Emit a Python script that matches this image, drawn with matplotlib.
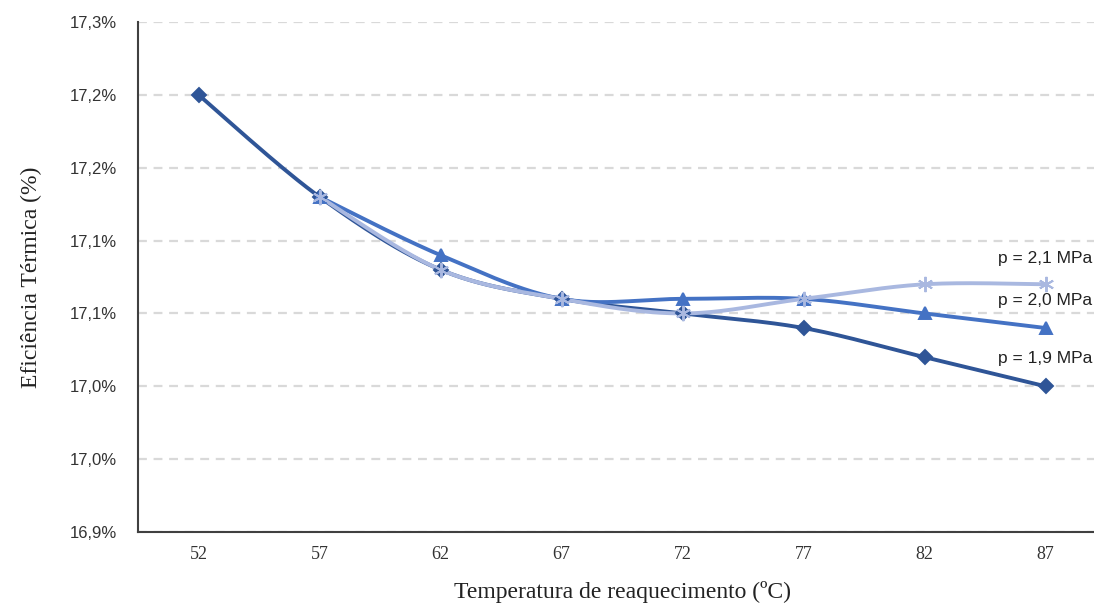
import numpy as np
import matplotlib.pyplot as plt
from matplotlib.ticker import FuncFormatter

temps = [52, 57, 62, 67, 72, 77, 82, 87]
eff_19 = [17.20, 17.13, 17.08, 17.06, 17.05, 17.04, 17.02, 17.00]
eff_20 = [None, 17.13, 17.09, 17.06, 17.06, 17.06, 17.05, 17.04]
eff_21 = [None, 17.13, 17.08, 17.06, 17.05, 17.06, 17.07, 17.07]
labels = ['p = 1,9 MPa', 'p = 2,0 MPa', 'p = 2,1 MPa']
label_y = [17.019, 17.059, 17.088]


def smooth(x, y, n=30):
    # bezier smoothing like the spreadsheet "smoothed line"
    x = np.asarray(x, float)
    y = np.asarray(y, float)
    px = np.concatenate([[x[0]], x, [x[-1]]])
    py = np.concatenate([[y[0]], y, [y[-1]]])
    xs, ys = [], []
    t = np.linspace(0, 1, n)
    for i in range(1, len(px) - 2):
        p0 = np.array([px[i], py[i]])
        p3 = np.array([px[i + 1], py[i + 1]])
        c1 = p0 + (np.array([px[i + 1], py[i + 1]]) - np.array([px[i - 1], py[i - 1]])) / 6
        c2 = p3 - (np.array([px[i + 2], py[i + 2]]) - np.array([px[i], py[i]])) / 6
        b = ((1 - t) ** 3)[:, None] * p0 + (3 * (1 - t) ** 2 * t)[:, None] * c1 \
            + (3 * (1 - t) * t ** 2)[:, None] * c2 + (t ** 3)[:, None] * p3
        xs.extend(b[:, 0])
        ys.extend(b[:, 1])
    return np.array(xs), np.array(ys)


fig = plt.figure(figsize=(10.94, 6.06), dpi=100)
ax = fig.add_axes([138 / 1094, 74 / 606, 968 / 1094, 510 / 606])

series = [
    (eff_19, '#2F5597', 'D', 7),
    (eff_20, '#4472C4', '^', 8.5),
    (eff_21, '#A9B8E0', (6, 2, 0), 11),
]
for vals, col, mk, ms in series:
    idx = [i for i, v in enumerate(vals) if v is not None]
    yv = [vals[i] for i in idx]
    sx, sy = smooth(idx, yv)
    ax.plot(sx, sy, color=col, lw=2.8, solid_capstyle='round', zorder=3)
    ax.plot(idx, yv, ls='none', marker=mk, ms=ms, color=col,
            markeredgecolor=col, mew=1.4, zorder=4)

ax.set_xlim(-0.5, 7.5)
ax.set_ylim(16.90, 17.25)
ax.set_yticks(np.arange(16.90, 17.26, 0.05))
ax.yaxis.set_major_formatter(
    FuncFormatter(lambda v, p: f'{round(v + 1e-9, 1):.1f}%'.replace('.', ',')))
ax.set_xticks(range(len(temps)))
ax.set_xticklabels([str(t) for t in temps], family='Liberation Serif', fontsize=13)
for lab in ax.get_yticklabels():
    lab.set_family('Liberation Sans')
    lab.set_fontsize(12)
ax.tick_params(length=0, labelcolor='#333333')
ax.tick_params(axis='y', pad=15)
ax.tick_params(axis='x', pad=10)

ax.grid(axis='y', color='#D9D9D9', ls=(0, (4, 3)), lw=1.6)
ax.set_axisbelow(True)
for s in ['top', 'right']:
    ax.spines[s].set_visible(False)
ax.spines['left'].set_color('#404040')
ax.spines['bottom'].set_color('#404040')
ax.spines['left'].set_linewidth(1.5)
ax.spines['bottom'].set_linewidth(1.5)

ax.set_xlabel('Temperatura de reaquecimento (ºC)', family='Liberation Serif',
              fontsize=17, labelpad=13, color='#222222')
ax.set_ylabel('Eficiência Térmica (%)', family='Liberation Serif',
              fontsize=17, labelpad=20, color='#222222')

for txt, yy in zip(labels, label_y):
    ax.text(6.61, yy, txt, family='Liberation Sans', fontsize=12.5,
            color='#222222', va='center')

fig.savefig('out.png', dpi=100)
